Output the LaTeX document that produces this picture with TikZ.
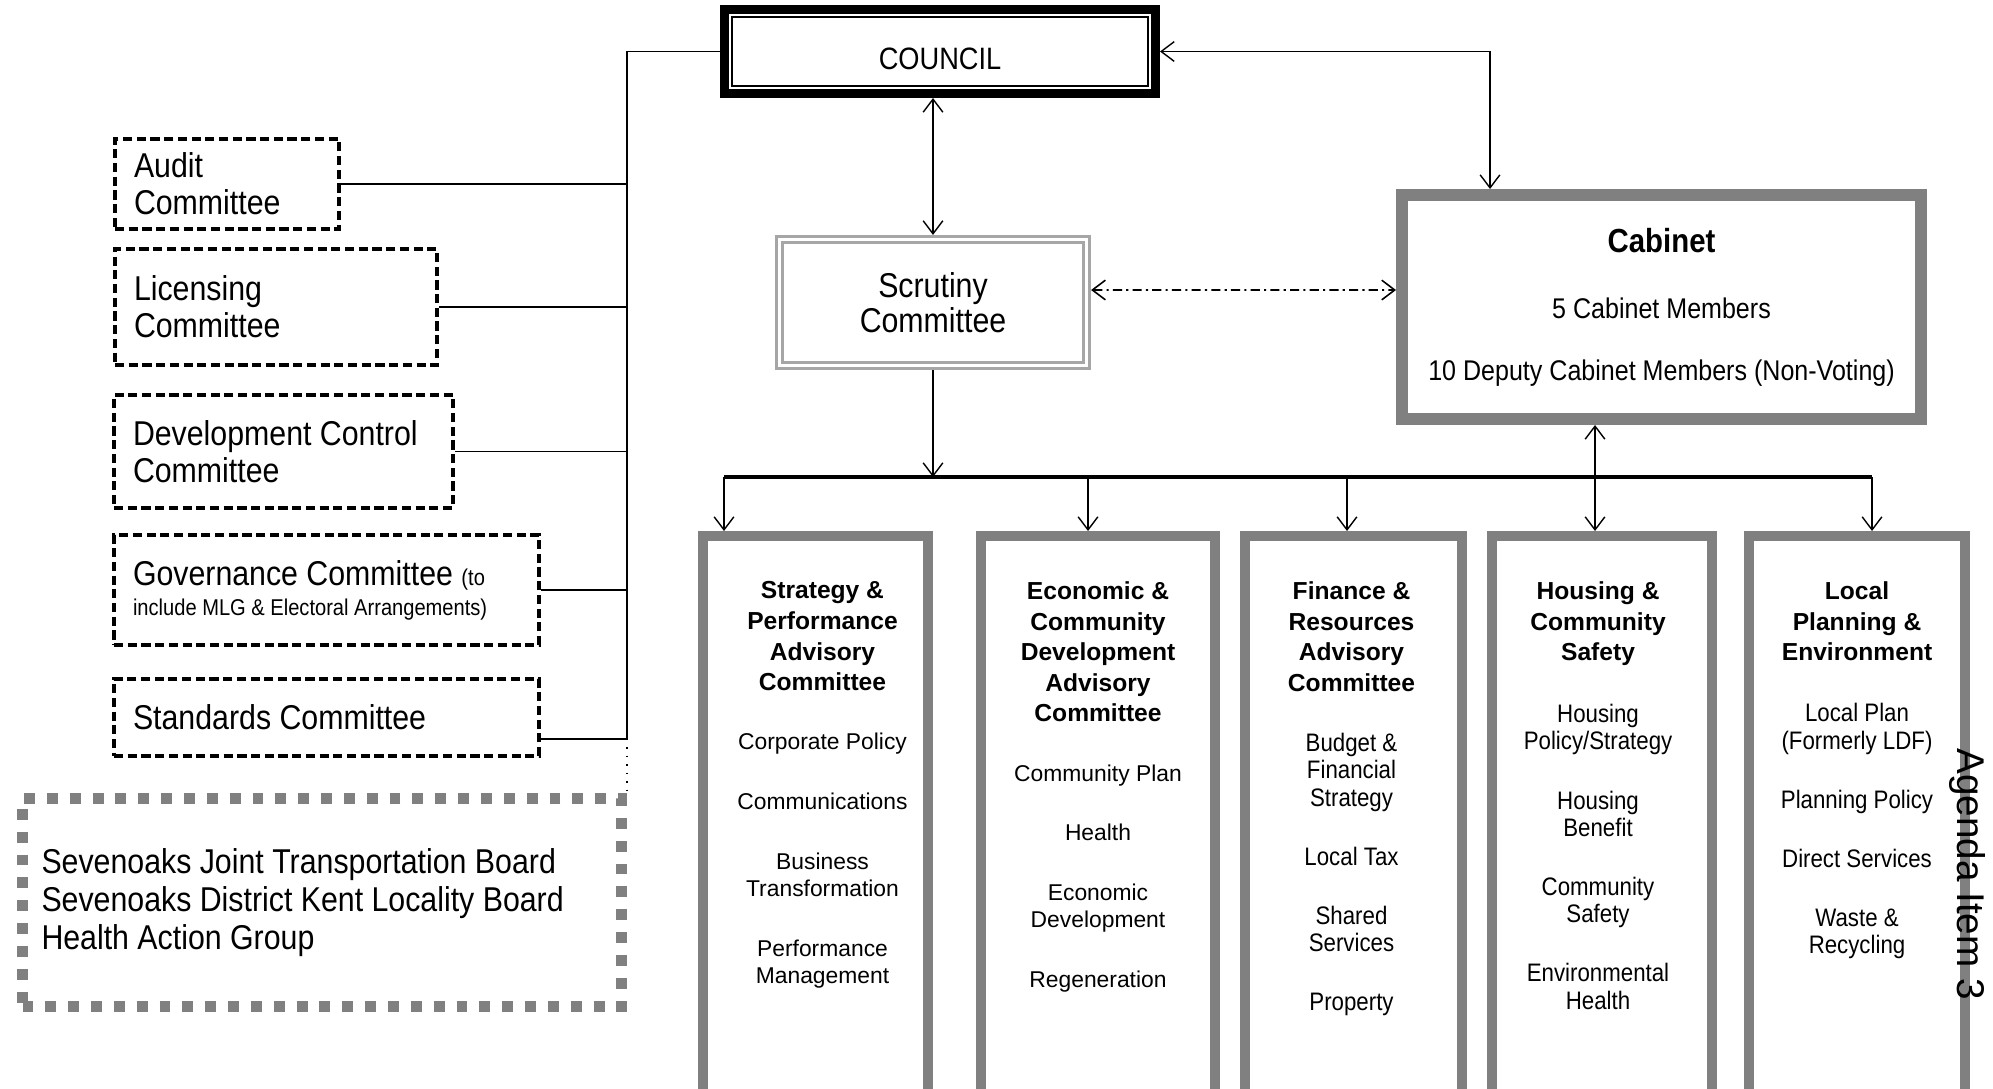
\documentclass[tikz,border=0pt]{standalone}
\usepackage{fontspec}
\setmainfont{Liberation Sans}
\newfontfamily\narrowfont{Liberation Sans}[FakeStretch=0.88]
\definecolor{SDCGrey}{HTML}{808080}
\definecolor{SDCLightGrey}{HTML}{A6A6A6}
\definecolor{SDCBlack}{HTML}{000000}
\definecolor{SDCWhite}{HTML}{FFFFFF}
\usetikzlibrary{arrows.meta,positioning}
\tikzset{
    % Base box style
    basebox/.style={
        draw=SDCBlack,
        fill=SDCWhite,
        inner sep=0pt,
        align=center
    },
    % Council box (thick outer frame)
    councilnode/.style={
        basebox,
        line width=2.56pt,
        minimum width=4.31cm,
        minimum height=0.84cm,
        text height=0.37cm,
        font=\narrowfont\fontsize{8.8}{10}\selectfont
    },
    % Thin inner frame of the council box
    councilinner/.style={
        draw=SDCBlack,
        line width=0.45pt,
        minimum width=4.16cm,
        minimum height=0.69cm,
        inner sep=0pt
    },
    % Scrutiny box (double grey frame)
    scrutinynode/.style={
        basebox,
        draw=SDCLightGrey,
        double,
        double distance=0.85pt,
        line width=0.85pt,
        outer sep=1.3pt,
        minimum width=3.07cm,
        minimum height=1.26cm,
        font=\narrowfont\fontsize{9.8}{10.1}\selectfont
    },
    % Cabinet box
    cabinetnode/.style={
        basebox,
        draw=SDCGrey,
        line width=3.4pt,
        minimum width=5.19cm,
        minimum height=2.24cm,
        font=\narrowfont\fontsize{8.1}{9.7}\selectfont
    },
    % Committees on the left (dashed)
    committeenode/.style={
        basebox,
        line width=1.1pt,
        dash pattern=on 2.6pt off 1.3pt,
        align=flush left,
        inner xsep=0.19cm,
        font=\narrowfont\fontsize{9.8}{10.5}\selectfont
    },
    % Outside boards (grey square dots)
    boardsnode/.style={
        basebox,
        draw=SDCGrey,
        line width=3.1pt,
        dash pattern=on 3.1pt off 3.4pt,
        align=flush left,
        inner xsep=0.19cm,
        font=\narrowfont\fontsize{9.8}{10.7}\selectfont
    },
    % Advisory committee column
    advbox/.style={
        basebox,
        draw=SDCGrey,
        line width=2.85pt,
        minimum height=5.7cm,
        anchor=north
    },
    % Advisory committee heading
    advtitle/.style={
        align=center,
        inner sep=0pt,
        anchor=north,
        font=\bfseries\fontsize{7}{8.7}\selectfont
    },
    % Advisory committee remits
    advitems/.style={
        align=center,
        inner sep=0pt,
        font=\fontsize{6.5}{7.8}\selectfont
    },
    advitemsnarrow/.style={
        advitems,
        font=\narrowfont\fontsize{7.2}{7.8}\selectfont
    },
    % Plain lines
    link/.style={
        draw=SDCBlack,
        line width=0.55pt
    },
    bus/.style={
        draw=SDCBlack,
        line width=0.9pt
    },
    dotlink/.style={
        draw=SDCBlack,
        line width=0.4pt,
        dotted
    },
    % Arrows
    oneway/.style={
        -{Straight Barb[length=3.7pt,width=5.6pt]},
        line width=0.4pt,
        draw=SDCBlack
    },
    twoway/.style={
        {Straight Barb[length=3.7pt,width=5.6pt]}-{Straight Barb[length=3.7pt,width=5.6pt]},
        line width=0.4pt,
        draw=SDCBlack
    },
    peer/.style={
        twoway,
        line width=0.45pt,
        dash pattern=on 2.6pt off 1.2pt on 0.6pt off 1.2pt
    },
    % Page stamp
    agenda/.style={
        rotate=-90,
        inner sep=0pt,
        font=\fontsize{11}{13}\selectfont
    }
}

\begin{document}
\begin{tikzpicture}
    \path[use as bounding box, clip] (0,0) rectangle (19.93,-10.88);

    % Council
    \node[councilnode] (council) at (9.40,-0.515) {COUNCIL};
    \node[councilinner] (council-in) at (9.40,-0.515) {};

    % Scrutiny and Cabinet
    \node[scrutinynode] (scrutiny) at (9.33,-3.025) {Scrutiny\\Committee};
    \node[cabinetnode] (cabinet) at (16.615,-3.07) {{\bfseries\fontsize{9.5}{11}\selectfont Cabinet}\\[9.1pt]5 Cabinet Members\\[7.9pt]10 Deputy Cabinet Members (Non-Voting)};

    % Committees of council
    \node[committeenode, text width=1.86cm, minimum width=2.24cm, minimum height=0.90cm] (audit) at (2.27,-1.84) {Audit\\Committee};
    \node[committeenode, text width=2.84cm, minimum width=3.22cm, minimum height=1.16cm] (licensing) at (2.76,-3.07) {Licensing\\Committee};
    \node[committeenode, text width=3.01cm, minimum width=3.39cm, minimum height=1.13cm] (devcontrol) at (2.835,-4.515) {Development Control\\Committee};
    \node[committeenode, text width=3.87cm, minimum width=4.25cm, minimum height=1.10cm, font=\narrowfont\fontsize{9.8}{8.5}\selectfont] (governance) at (3.265,-5.90) {Governance Committee {\fontsize{6.5}{7}\selectfont(to}\\{\fontsize{6.5}{7}\selectfont include MLG \& Electoral Arrangements)}};
    \node[committeenode, text width=3.87cm, minimum width=4.25cm, minimum height=0.77cm] (standards) at (3.265,-7.175) {Standards Committee};

    % Outside bodies
    \node[boardsnode, text width=5.61cm, minimum width=5.99cm, minimum height=2.08cm] (boards) at (3.22,-9.025) {Sevenoaks Joint Transportation Board\\Sevenoaks District Kent Locality Board\\Health Action Group};

    % Advisory committees
    \node[advbox, minimum width=2.25cm] (spac) at (8.155,-5.31) {};
    \node[advbox, minimum width=2.34cm] (ecac) at (10.98,-5.31) {};
    \node[advbox, minimum width=2.17cm] (frac) at (13.535,-5.31) {};
    \node[advbox, minimum width=2.20cm] (hcs) at (16.02,-5.31) {};
    \node[advbox, minimum width=2.16cm] (lpe) at (18.57,-5.31) {};

    \node[advtitle] (spac-t) at ([xshift=0.07cm,yshift=-0.5cm]spac.north) {Strategy \&\\Performance\\Advisory\\Committee};
    \node[advitems, below=0.41cm of spac-t] (spac-i) {Corporate Policy\\[9.2pt]Communications\\[9.2pt]Business\\Transformation\\[9.2pt]Performance\\Management};

    \node[advtitle] (ecac-t) at ([yshift=-0.5cm]ecac.north) {Economic \&\\Community\\Development\\Advisory\\Committee};
    \node[advitems, below=0.41cm of ecac-t] (ecac-i) {Community Plan\\[9.2pt]Health\\[9.2pt]Economic\\Development\\[9.2pt]Regeneration};

    \node[advtitle] (frac-t) at ([xshift=-0.02cm,yshift=-0.5cm]frac.north) {Finance \&\\Resources\\Advisory\\Committee};
    \node[advitemsnarrow, below=0.4cm of frac-t] (frac-i) {Budget \&\\Financial\\Strategy\\[9pt]Local Tax\\[9pt]Shared\\Services\\[9pt]Property};

    \node[advtitle] (hcs-t) at ([xshift=-0.04cm,yshift=-0.5cm]hcs.north) {Housing \&\\Community\\Safety};
    \node[advitemsnarrow, below=0.37cm of hcs-t] (hcs-i) {Housing\\Policy/Strategy\\[9pt]Housing\\Benefit\\[9pt]Community\\Safety\\[9pt]Environmental\\Health};

    \node[advtitle] (lpe-t) at ([yshift=-0.5cm]lpe.north) {Local\\Planning \&\\Environment};
    \node[advitemsnarrow, below=0.41cm of lpe-t] (lpe-i) {Local Plan\\(Formerly LDF)\\[9pt]Planning Policy\\[9pt]Direct Services\\[9pt]Waste \&\\Recycling};

    % Junction points
    \coordinate (spine) at (6.27,-7.39);
    \coordinate (d1) at (7.24,-4.77);
    \coordinate (d2) at (10.88,-4.77);
    \coordinate (d3) at (13.47,-4.77);
    \coordinate (d4) at (15.95,-4.77);
    \coordinate (d5) at (18.72,-4.77);

    % Council to its committees
    \draw[link] (council.west) -| (spine);
    \draw[link] (audit.east) -- (audit.east -| spine);
    \draw[link] (licensing.east) -- (licensing.east -| spine);
    \draw[link] (devcontrol.east) -- (devcontrol.east -| spine);
    \draw[link] (governance.east) -- (governance.east -| spine);
    \draw[link] (spine) -- (spine -| standards.east);
    \draw[dotlink] (spine) -- (spine |- boards.north);

    % Council, Scrutiny and Cabinet
    \draw[twoway] (council.east) -| ([xshift=-1.715cm]cabinet.north);
    \draw[twoway] (scrutiny.north |- council.south) -- (scrutiny.north);
    \draw[peer] ([yshift=0.125cm]scrutiny.east) -- ([yshift=0.17cm]cabinet.west);
    \draw[oneway] (scrutiny.south) -- (scrutiny.south |- d1);

    % Advisory committees
    \draw[bus] (d1) -- (d5);
    \draw[oneway] (d1) -- (d1 |- spac.north);
    \draw[oneway] (d2) -- (d2 |- ecac.north);
    \draw[oneway] (d3) -- (d3 |- frac.north);
    \draw[oneway] (d5) -- (d5 |- lpe.north);
    \draw[twoway] (d4 |- cabinet.south) -- (d4 |- hcs.north);

    % Stamp
    \node[agenda] (stamp) at (19.67,-8.74) {Agenda Item 3};
\end{tikzpicture}
\end{document}
